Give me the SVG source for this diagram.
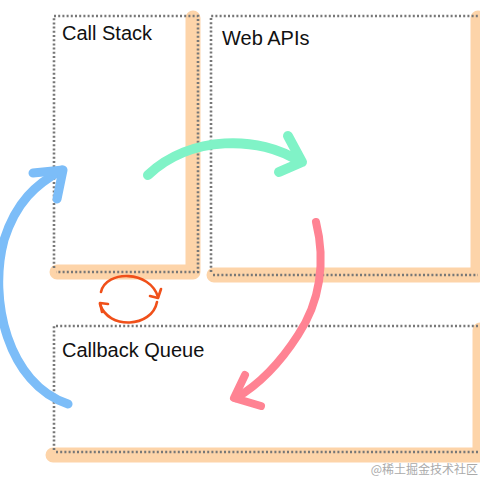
<svg xmlns="http://www.w3.org/2000/svg" width="480" height="480" viewBox="0 0 480 480">
<style>
.band{fill:none;stroke:#fdd4a9;stroke-width:15;stroke-linecap:round;stroke-linejoin:round}
.dot{fill:none;stroke:#777;stroke-width:2.6;stroke-dasharray:2 2.2}
.lbl{font-family:"Liberation Sans",Arial,sans-serif;font-size:20px;fill:#111}
.arr{fill:none;stroke-linecap:round;stroke-linejoin:round}
</style>
<rect width="480" height="480" fill="#fff"/>
<g id="call-stack">
<path class="band" d="M193,18 V272 H57"/>
<path class="dot" d="M54,268 V16 H198 V272 H56"/>
<text class="lbl" x="62" y="40">Call Stack</text>
</g>
<g id="web-apis">
<path class="band" d="M478,18 V275 H214"/>
<path class="dot" d="M211,272 V16 H478"/>
<path class="dot" d="M213,275 H478"/>
<text class="lbl" x="222" y="45">Web APIs</text>
</g>
<g id="callback-queue">
<path class="band" d="M480,330 V455 H53"/>
<path class="dot" d="M54,450 V326 H478"/>
<path class="dot" d="M56,452 H478"/>
<text class="lbl" x="62" y="357">Callback Queue</text>
</g>
<g id="connectors">
<g class="arr" stroke="#80f3c7" stroke-width="10">
<path d="M148,175 C190,135 260,135 300,162"/>
<path d="M288,136 L302,162 L279,172"/>
</g>
<g class="arr" stroke="#ff8393" stroke-width="8">
<path d="M316,222 C326,262 320,302 298,335 C280,363 260,384 236,398"/>
<path d="M245,375 L234,398 L261,406"/>
</g>
<g class="arr" stroke="#7cbdf8" stroke-width="9">
<path d="M68,404 C8,384 -12,300 4,240 C16,202 36,184 62,170"/>
<path d="M33,173 L63,170 L57,199"/>
</g>
<g class="arr" stroke="#f0501a" stroke-width="2.6">
<path d="M101,292 C106,270 150,270 158,297"/>
<path d="M150,296 L158,298 L161,289"/>
<path d="M157,302 C152,328 108,330 100,304"/>
<path d="M108,304 L100,303 L102,312"/>
</g>
</g>
<text x="478" y="474" text-anchor="end" font-family="'Noto Sans CJK SC',sans-serif" font-size="12" fill="#aaa">@稀土掘金技术社区</text>
</svg>
